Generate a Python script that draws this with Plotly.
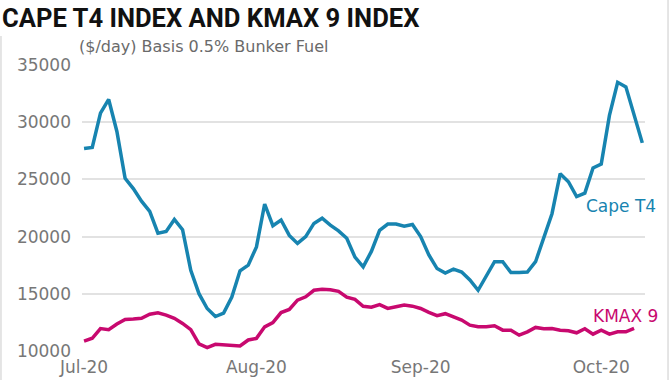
import plotly.graph_objects as go

# x positions are trading-day indices; month labels at first trading day of each month
tick_index = [0, 21, 41, 63]
tick_labels = ["Jul-20", "Aug-20", "Sep-20", "Oct-20"]

cape_t4 = [27700, 27800, 30800, 32000, 29200, 25100, 24200, 23100, 22200, 20300,
           20450, 21500, 20600, 17050, 15000, 13700, 13000, 13300, 14700, 17000,
           17500, 19100, 22850, 20950, 21450, 20100, 19400, 20000, 21150, 21600,
           21000, 20500, 19850, 18200, 17350, 18700, 20550, 21100, 21100, 20900,
           21050, 20000, 18400, 17200, 16800, 17150, 16900, 16200, 15300, 16500,
           17800, 17800, 16850, 16850, 16900, 17800, 20000, 22000, 25500, 24800,
           23500, 23800, 26000, 26350, 30600, 33500, 33100, 30600, 28200]

kmax_9 = [10850, 11100, 11950, 11850, 12350, 12750, 12780, 12850, 13200, 13330,
          13130, 12840, 12400, 11850, 10600, 10280, 10570, 10530, 10470, 10420,
          10950, 11090, 12100, 12470, 13350, 13620, 14440, 14730, 15300, 15380,
          15350, 15200, 14700, 14500, 13900, 13820, 14050, 13710, 13850, 14000,
          13910, 13710, 13360, 13080, 13250, 12980, 12690, 12250, 12100, 12100,
          12190, 11810, 11810, 11370, 11660, 12050, 11930, 11960, 11810, 11750,
          11580, 11930, 11460, 11810, 11460, 11660, 11660, 11960]

y_ticks = [10000, 15000, 20000, 25000, 30000, 35000]
y_tick_labels = ["10000", "15000", "20000", "25000", "30000", "35000"]

BLUE = "#1784b0"
MAGENTA = "#c8096f"
FONT = "DejaVu Sans"

fig = go.Figure()
fig.add_trace(go.Scatter(x=list(range(len(cape_t4))), y=cape_t4, mode="lines",
                         line=dict(color=BLUE, width=3.5), name="Cape T4"))
fig.add_trace(go.Scatter(x=list(range(len(kmax_9))), y=kmax_9, mode="lines",
                         line=dict(color=MAGENTA, width=3.5), name="KMAX 9"))

fig.add_annotation(x=65.4, y=22670, text="Cape T4", showarrow=False,
                   font=dict(family=FONT, size=17, color=BLUE), xanchor="center", yanchor="middle")
fig.add_annotation(x=65.95, y=13045, text="KMAX 9", showarrow=False,
                   font=dict(family=FONT, size=17, color=MAGENTA), xanchor="center", yanchor="middle")

fig.add_annotation(xref="paper", yref="paper", x=-0.1463, y=1.164, text="<b>CAPE T4 INDEX AND KMAX 9 INDEX</b>",
                   showarrow=False, xanchor="left", yanchor="middle",
                   font=dict(family="Roboto", size=25.6, color="#111111"))
fig.add_annotation(xref="paper", yref="paper", x=-0.0096, y=1.063, text="($/day) Basis 0.5% Bunker Fuel",
                   showarrow=False, xanchor="left", yanchor="middle",
                   font=dict(family=FONT, size=16, color="#6a6a6a"))

# faint frame lines at the image edges
fig.add_shape(type="line", xref="paper", yref="paper", x0=-0.1439, x1=-0.1439, y0=-0.11, y1=1.101,
              line=dict(color="#d4d4d4", width=1.2))
fig.add_shape(type="line", xref="paper", yref="paper", x0=1.0409, x1=1.0409, y0=-0.11, y1=1.23,
              line=dict(color="#d4d4d4", width=1.2))

fig.update_layout(
    width=670, height=380,
    margin=dict(l=82, r=25, t=65, b=29, pad=0, autoexpand=False),
    paper_bgcolor="white", plot_bgcolor="white",
    showlegend=False,
    xaxis=dict(range=[-0.25, 68.33], tickvals=tick_index, ticktext=tick_labels,
               showgrid=False, zeroline=False, showline=False, ticks="", automargin=False,
               tickfont=dict(family=FONT, size=17, color="#777777"), ticklabelstandoff=4),
    yaxis=dict(range=[9985, 35015], tickvals=y_ticks, ticktext=y_tick_labels,
               showgrid=True, gridcolor="#e2e2e2", automargin=False,
               gridwidth=1.6, zeroline=False, showline=False, ticks="",
               tickfont=dict(family=FONT, size=17, color="#777777"), ticklabelstandoff=10),
)

fig.write_html("out.html", config={"displayModeBar": False},
               post_script="document.body.style.margin='0';")
